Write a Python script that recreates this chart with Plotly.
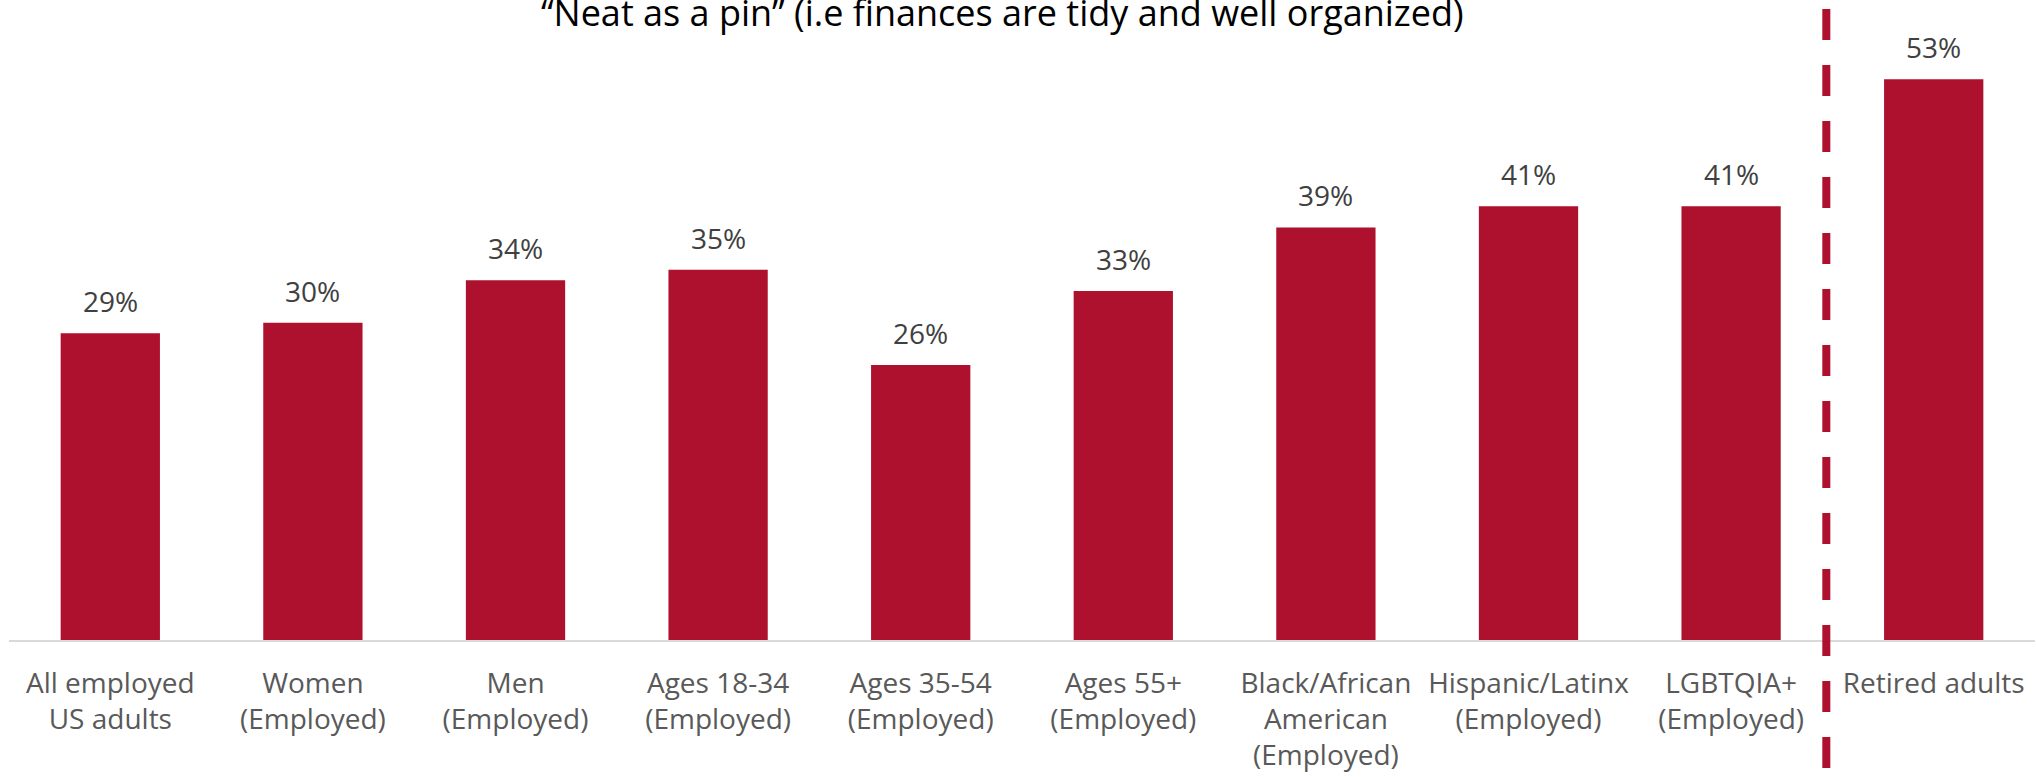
import plotly.graph_objects as go

# Share of each group describing their finances as "neat as a pin"
categories = [
    "All employed<br>US adults",
    "Women<br>(Employed)",
    "Men<br>(Employed)",
    "Ages 18-34<br>(Employed)",
    "Ages 35-54<br>(Employed)",
    "Ages 55+<br>(Employed)",
    "Black/African<br>American<br>(Employed)",
    "Hispanic/Latinx<br>(Employed)",
    "LGBTQIA+<br>(Employed)",
    "Retired adults",
]
values = [29, 30, 34, 35, 26, 33, 39, 41, 41, 53]
value_labels = [f"{v}%" for v in values]
title_text = "“Neat as a pin” (i.e finances are tidy and well organized)"

BAR_COLOR = "#AD112E"
FONT = "Open Sans"

fig = go.Figure()
fig.add_trace(go.Bar(
    x=list(range(len(categories))),
    y=values,
    width=0.49,
    marker=dict(color=BAR_COLOR, line=dict(width=0)),
    hoverinfo="skip",
))

# Value labels above each bar
for i, (v, lab) in enumerate(zip(values, value_labels)):
    fig.add_annotation(
        x=i, y=v, xref="x", yref="y",
        text=lab, showarrow=False,
        yanchor="bottom", yshift=11,
        font=dict(family=FONT, size=28, color="#404040"),
    )

# Title sitting at the top edge of the chart
fig.add_annotation(
    x=0.4906, y=0.981, xref="paper", yref="paper",
    text=title_text, showarrow=False,
    xanchor="center", yanchor="middle",
    font=dict(family=FONT, size=36, color="#000000"),
)

# Dashed divider separating employed groups from retirees
fig.add_shape(
    type="line", xref="x", yref="paper",
    x0=8.47, x1=8.47, y0=-0.2, y1=1.0,
    line=dict(color=BAR_COLOR, width=8, dash="31px,25px"),
    layer="above",
)

fig.update_layout(
    width=2036, height=777,
    margin=dict(l=9, r=1, t=0, b=137),
    paper_bgcolor="white", plot_bgcolor="white",
    showlegend=False,
    xaxis=dict(
        tickmode="array",
        tickvals=list(range(len(categories))),
        ticktext=categories,
        range=[-0.5, 9.5],
        showline=True, linecolor="#D9D9D9", linewidth=2,
        showgrid=False, zeroline=False,
        ticks="",
        ticklabelstandoff=17,
        tickfont=dict(family=FONT, size=28, color="#595959"),
    ),
    yaxis=dict(
        range=[0, 60.5],
        visible=False,
        showgrid=False, zeroline=False,
    ),
)

fig.write_html("out.html")
